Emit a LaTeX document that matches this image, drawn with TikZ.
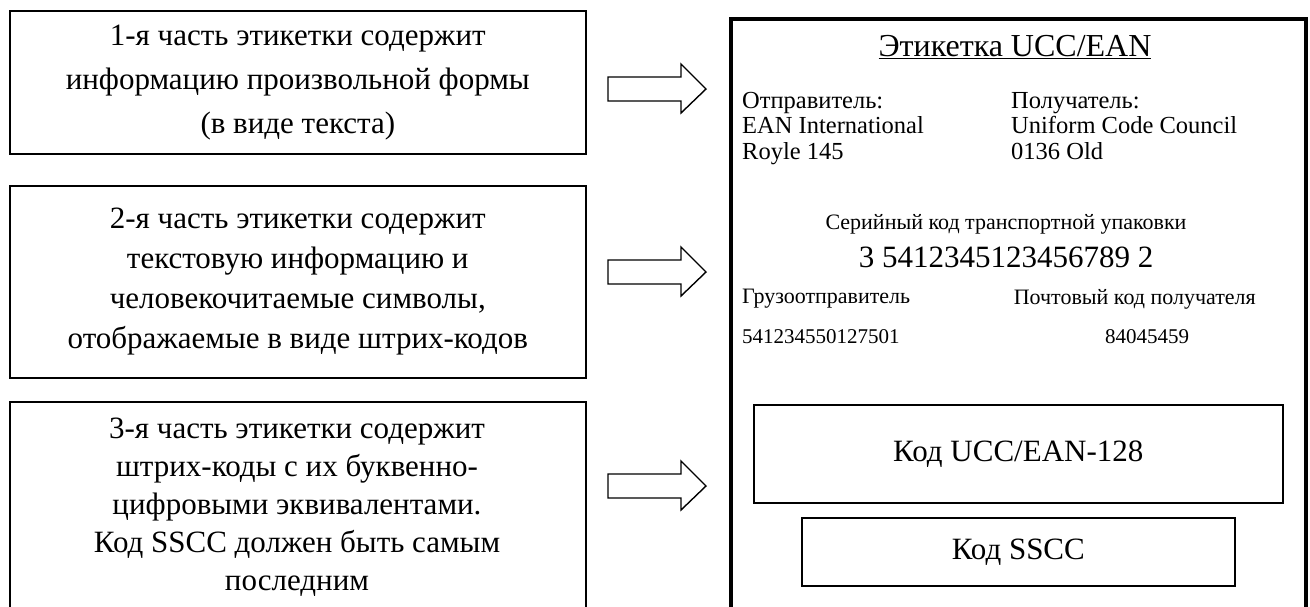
\documentclass[tikz,border=0pt]{standalone}
\usepackage{fontspec}
\setmainfont{Liberation Serif}
\begin{document}
\begin{tikzpicture}[x=1pt,y=-1pt,line join=miter,
  partbox/.style={draw,line width=1.6pt,anchor=north west,inner sep=0pt,align=center},
  mainbox/.style={draw,line width=4pt,anchor=north west,inner sep=0pt},
  codebox/.style={draw,line width=1.6pt,anchor=north west,inner sep=0pt,align=center,font=\fontsize{31}{36}\selectfont},
  blocktxt/.style={font=\fontsize{31}{44}\selectfont,align=center},
  lbltxt/.style={font=\fontsize{24.5}{25.5}\selectfont,align=left,inner sep=0pt},
  rowtxt/.style={font=\fontsize{22}{25}\selectfont,inner sep=0pt},
  arrowline/.style={draw,line width=1.4pt}]
\useasboundingbox (0,0) rectangle (1310,606);
\clip (0,0) rectangle (1310,606);
% left boxes
\node[partbox,minimum width=576pt,minimum height=143pt] (p1) at (9,10) {};
\node[blocktxt] (t1) at (p1.center) {1-я часть этикетки содержит\\информацию произвольной формы\\(в виде текста)};
\node[partbox,minimum width=576pt,minimum height=192pt] (p2) at (9,185) {};
\node[blocktxt,font=\fontsize{31}{40}\selectfont] (t2) at (p2.center) {2-я часть этикетки содержит\\текстовую информацию и\\человекочитаемые символы,\\отображаемые в виде штрих-кодов};
\node[partbox,minimum width=576pt,minimum height=230pt] (p3) at (9,401) {};
\node[blocktxt,font=\fontsize{31}{38}\selectfont,anchor=north] (t3) at (297,414) {3-я часть этикетки содержит\\штрих-коды с их буквенно-\\цифровыми эквивалентами.\\Код SSCC должен быть самым\\последним};
% main label
\node[mainbox,minimum width=575pt,minimum height=640pt] (lbl) at (729,17) {};
\node[font=\fontsize{32}{36}\selectfont] (title) at (1015,47) {\underline{Этикетка UCC/EAN}};
\node[lbltxt,anchor=north west] (snd) at (742,92) {Отправитель:\\EAN International\\Royle 145};
\node[lbltxt,anchor=north west] (rcv) at (1011,92) {Получатель:\\Uniform Code Council\\0136 Old};
\node[rowtxt] (serl) at (1006,224) {Серийный код транспортной упаковки};
\node[font=\fontsize{31}{36}\selectfont] (sern) at (1006,257) {3 5412345123456789 2};
\node[rowtxt,anchor=west] (gl) at (742,299) {Грузоотправитель};
\node[rowtxt,anchor=east] (pl) at (1256,299) {Почтовый код получателя};
\node[rowtxt,anchor=west,font=\fontsize{21}{25}\selectfont] (gn) at (742,337) {541234550127501};
\node[rowtxt,font=\fontsize{21}{25}\selectfont] (pn) at (1147,337) {84045459};
\node[codebox,minimum width=529pt,minimum height=98pt] (ucc) at (753,404) {};
\node[font=\fontsize{31}{36}\selectfont] (ucct) at (ucc.center) {Код UCC/EAN-128};
\node[codebox,minimum width=433pt,minimum height=68pt] (sscc) at (801,517) {};
\node[font=\fontsize{31}{36}\selectfont] (sscct) at (sscc.center) {Код SSCC};
% block arrows
\coordinate (a1) at (608,89);
\coordinate (a2) at (608,272);
\coordinate (a3) at (608,486);
\foreach \a in {a1,a2,a3}{
  \draw[arrowline] (\a) ++(0,-12) -- ++(73,0) -- ++(0,-13) -- ++(25,25) -- ++(-25,24) -- ++(0,-12) -- ++(-73,0) -- cycle;
}
\end{tikzpicture}
\end{document}
